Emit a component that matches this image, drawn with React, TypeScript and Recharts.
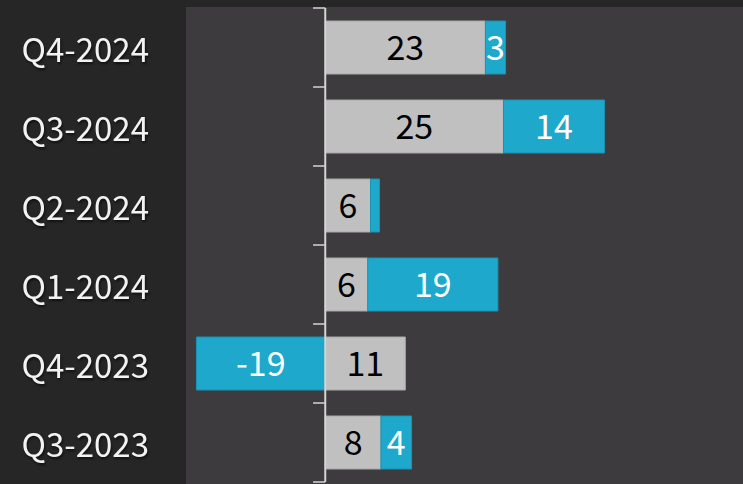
import React from 'react'
import {
  BarChart,
  Bar,
  XAxis,
  YAxis,
  LabelList,
  ReferenceLine,
} from 'recharts'

const quarters = ['Q4-2024', 'Q3-2024', 'Q2-2024', 'Q1-2024', 'Q4-2023', 'Q3-2023']
const baseValues = [23, 25.6, 6.5, 6.1, 11.5, 8]
const changeValues = [2.9, 14.5, 1.3, 18.7, -18.5, 4.4]
const baseLabels = ['23', '25', '6', '6', '11', '8']
const changeLabels = ['3', '14', '', '19', '-19', '4']

const data = quarters.map((q, i) => ({
  name: q,
  base: baseValues[i],
  change: changeValues[i],
  baseLabel: baseLabels[i],
  changeLabel: changeLabels[i],
}))

const FONT = '"Noto Sans CJK JP", "Noto Sans", sans-serif'

const QuarterTick = (props: any) => {
  const { x, y, payload } = props
  return (
    <text
      x={x}
      y={y}
      textAnchor="end"
      dominantBaseline="central"
      fill="#f2f2f2"
      fontSize={33}
      fontFamily={FONT}
      style={{ filter: 'drop-shadow(1px 2px 1px rgba(0,0,0,0.55))' }}
    >
      {payload.value}
    </text>
  )
}

const App: React.FC = () => {
  return (
    <div style={{ position: 'absolute', left: 0, top: 0, width: 743, height: 484, background: '#262626' }}>
      <div style={{ position: 'absolute', left: 186, top: 7, width: 557, height: 477, background: '#3d3b3d' }} />
      <div style={{ position: 'absolute', left: 0, top: 0 }}>
        <BarChart
          width={743}
          height={484}
          data={data}
          layout="vertical"
          stackOffset="sign"
          barSize={53}
          margin={{ top: 8, right: 0, left: 0, bottom: 2 }}
        >
          <XAxis type="number" domain={[-20, 60]} hide />
          <YAxis
            type="category"
            dataKey="name"
            width={186}
            axisLine={false}
            tickLine={false}
            tickMargin={31}
            tick={<QuarterTick />}
          />
          <Bar dataKey="base" stackId="a" fill="#c0c0c0" stroke="#a9a9a9" strokeWidth={1} isAnimationActive={false}>
            <LabelList dataKey="baseLabel" position="center" fill="#000" fontSize={34} fontFamily={FONT} />
          </Bar>
          <Bar dataKey="change" stackId="a" fill="#1ea8cb" stroke="#1a93b3" strokeWidth={1} isAnimationActive={false}>
            <LabelList dataKey="changeLabel" position="center" fill="#fff" fontSize={34} fontFamily={FONT} />
          </Bar>
          <ReferenceLine x={0} stroke="#d4d4d4" strokeWidth={2} />
          {quarters.map((q) => (
            <ReferenceLine
              key={q}
              segment={[{ x: -1.75, y: q }, { x: 0, y: q }]}
              position="start"
              stroke="#d4d4d4"
              strokeWidth={1.5}
            />
          ))}
          <ReferenceLine
            segment={[{ x: -1.75, y: quarters[quarters.length - 1] }, { x: 0, y: quarters[quarters.length - 1] }]}
            position="end"
            stroke="#d4d4d4"
            strokeWidth={1.5}
          />
        </BarChart>
      </div>
    </div>
  )
}

export default App
